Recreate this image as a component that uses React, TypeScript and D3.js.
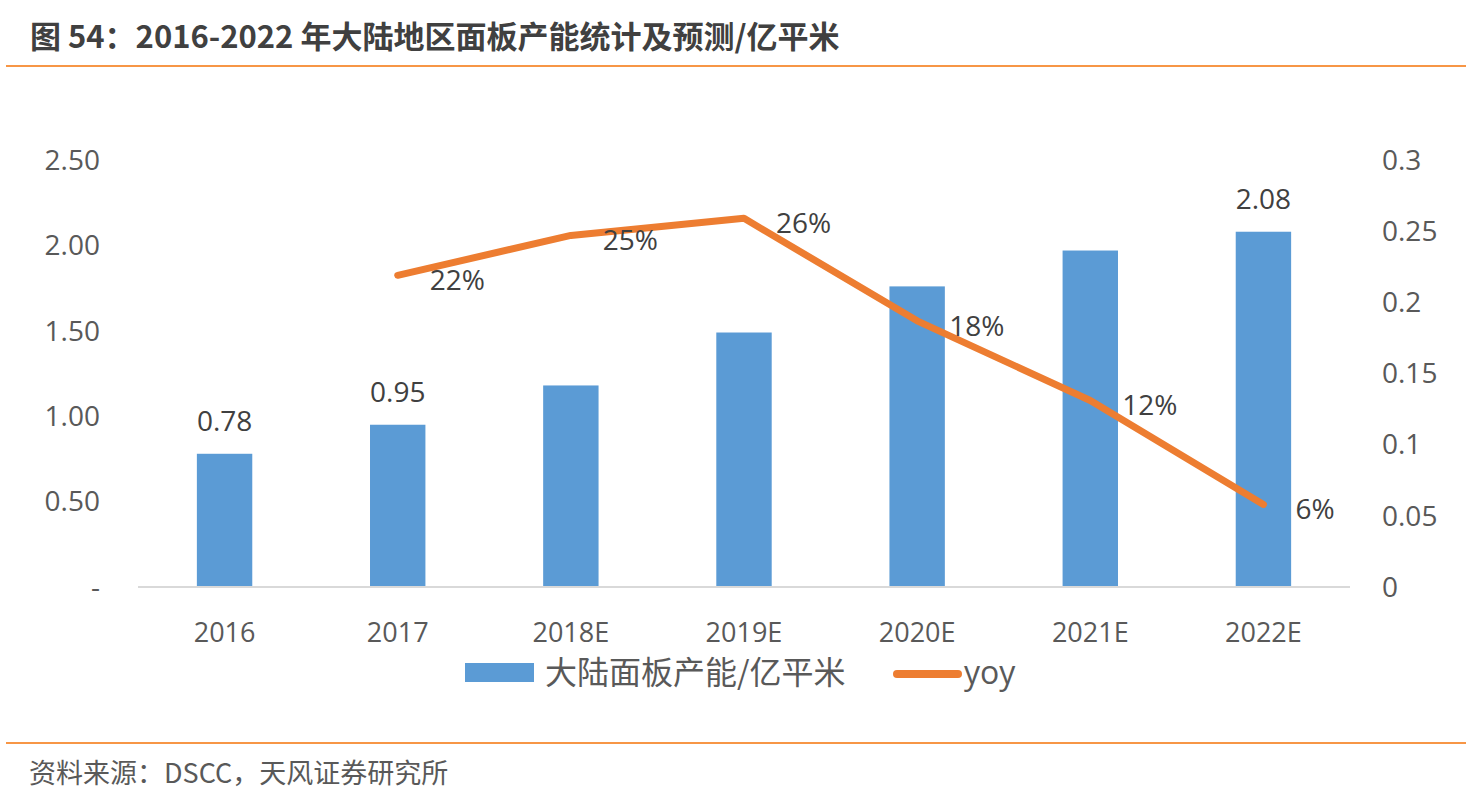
import { useEffect, useRef } from 'react';
import * as d3 from 'd3';

const W = 1468;
const H = 800;
const MARGIN = { top: 160, right: 118, bottom: 213, left: 138 };

const categories = ['2016', '2017', '2018E', '2019E', '2020E', '2021E', '2022E'];
const capacity = [0.78, 0.95, 1.18, 1.49, 1.76, 1.97, 2.08];
// bar labels shown only on some bars in the original
const capacityLabels = ['0.78', '0.95', '', '', '', '', '2.08'];
const yoy = [null, 0.219, 0.247, 0.259, 0.187, 0.131, 0.058];
const yoyLabels = ['', '22%', '25%', '26%', '18%', '12%', '6%'];
const leftTicks = [0, 0.5, 1, 1.5, 2, 2.5];
const leftTickLabels = ['-', '0.50', '1.00', '1.50', '2.00', '2.50'];
const rightTicks = [0, 0.05, 0.1, 0.15, 0.2, 0.25, 0.3];
const rightTickLabels = ['0', '0.05', '0.1', '0.15', '0.2', '0.25', '0.3'];

const BLUE = '#5B9BD5';
const ORANGE = '#ED7D31';
const TEXT = '#595959';
const FONT = '"Open Sans", "Noto Sans CJK SC", sans-serif';
const CJK = '"Noto Sans CJK SC", sans-serif';

export default function App() {
  const svgRef = useRef<SVGSVGElement>(null);

  useEffect(() => {
    const svg = d3.select(svgRef.current);
    svg.selectAll('*').remove();

    const bw = W - MARGIN.left - MARGIN.right;
    const bh = H - MARGIN.top - MARGIN.bottom;

    const x = d3.scaleBand().domain(categories).range([0, bw]).paddingInner(0.68).paddingOuter(0.34);
    const yL = d3.scaleLinear().domain([0, 2.5]).range([bh, 0]);
    const yR = d3.scaleLinear().domain([0, 0.3]).range([bh, 0]);

    // title
    svg.append('text')
      .attr('x', 30).attr('y', 48)
      .style('font-family', CJK).style('font-weight', 700).style('font-size', '31px')
      .attr('fill', '#404040')
      .text('图 54：2016-2022 年大陆地区面板产能统计及预测/亿平米');
    svg.append('line').attr('x1', 6).attr('x2', 1466).attr('y1', 66).attr('y2', 66)
      .attr('stroke', '#F79646').attr('stroke-width', 2);

    const g = svg.append('g').attr('transform', `translate(${MARGIN.left},${MARGIN.top})`);

    // bars
    g.selectAll('rect.bar').data(capacity).join('rect')
      .attr('x', (_, i) => x(categories[i])!)
      .attr('y', d => yL(d))
      .attr('width', x.bandwidth())
      .attr('height', d => bh - yL(d))
      .attr('fill', BLUE);

    g.selectAll('text.barlab').data(capacity).join('text')
      .attr('x', (_, i) => x(categories[i])! + x.bandwidth() / 2)
      .attr('y', d => yL(d) - 33).attr('dy', '0.35em')
      .attr('text-anchor', 'middle')
      .style('font-family', FONT).style('font-size', '28px').attr('fill', '#404040')
      .text((_, i) => capacityLabels[i]);

    // baseline
    g.append('line').attr('x1', 0).attr('x2', bw).attr('y1', bh).attr('y2', bh)
      .attr('stroke', '#d9d9d9').attr('stroke-width', 2);

    // left axis
    g.selectAll('text.lt').data(leftTicks).join('text')
      .attr('x', -38).attr('y', d => yL(d)).attr('dy', '0.35em')
      .attr('text-anchor', 'end')
      .style('font-family', FONT).style('font-size', '28px').attr('fill', TEXT)
      .text((_, i) => leftTickLabels[i]);

    // right axis
    g.selectAll('text.rt').data(rightTicks).join('text')
      .attr('x', bw + 32).attr('y', d => yR(d)).attr('dy', '0.35em')
      .attr('text-anchor', 'start')
      .style('font-family', FONT).style('font-size', '28px').attr('fill', TEXT)
      .text((_, i) => rightTickLabels[i]);

    // x axis labels
    g.selectAll('text.xt').data(categories).join('text')
      .attr('x', d => x(d)! + x.bandwidth() / 2).attr('y', bh + 46).attr('dy', '0.35em')
      .attr('text-anchor', 'middle')
      .style('font-family', FONT).style('font-size', '27px').attr('fill', TEXT)
      .text(d => d);

    // yoy line
    const pts = categories.map((c, i) => ({ c, v: yoy[i], label: yoyLabels[i] })).filter(p => p.v !== null) as { c: string; v: number; label: string }[];
    const line = d3.line<{ c: string; v: number }>()
      .x(d => x(d.c)! + x.bandwidth() / 2)
      .y(d => yR(d.v));
    g.append('path').datum(pts).attr('d', line)
      .attr('fill', 'none').attr('stroke', ORANGE).attr('stroke-width', 7)
      .attr('stroke-linecap', 'round').attr('stroke-linejoin', 'round');

    g.selectAll('text.yl').data(pts).join('text')
      .attr('x', d => x(d.c)! + x.bandwidth() / 2 + 32)
      .attr('y', d => yR(d.v) + 5).attr('dy', '0.35em')
      .style('font-family', FONT).style('font-size', '28px').attr('fill', '#404040')
      .text(d => d.label);

    // legend
    const lg = svg.append('g');
    lg.append('rect').attr('x', 465).attr('y', 663).attr('width', 69).attr('height', 19).attr('fill', BLUE);
    lg.append('text').attr('x', 545).attr('y', 673).attr('dy', '0.35em')
      .style('font-family', CJK).style('font-size', '32px').attr('fill', TEXT)
      .text('大陆面板产能/亿平米');
    lg.append('line').attr('x1', 897).attr('x2', 958).attr('y1', 674).attr('y2', 674)
      .attr('stroke', ORANGE).attr('stroke-width', 8).attr('stroke-linecap', 'round');
    lg.append('text').attr('x', 964).attr('y', 673).attr('dy', '0.35em')
      .style('font-family', FONT).style('font-size', '32px').attr('fill', TEXT)
      .text('yoy');

    // footer
    svg.append('line').attr('x1', 6).attr('x2', 1466).attr('y1', 743).attr('y2', 743)
      .attr('stroke', '#F79646').attr('stroke-width', 2);
    svg.append('text').attr('x', 29).attr('y', 774).attr('dy', '0.35em')
      .style('font-family', CJK).style('font-size', '27px').attr('fill', TEXT)
      .text('资料来源：DSCC，天风证券研究所');
  }, []);

  return (
    <div style={{ position: 'absolute', left: 0, top: 0, width: W, height: H, background: '#fff' }}>
      <svg ref={svgRef} width={W} height={H} />
    </div>
  );
}
